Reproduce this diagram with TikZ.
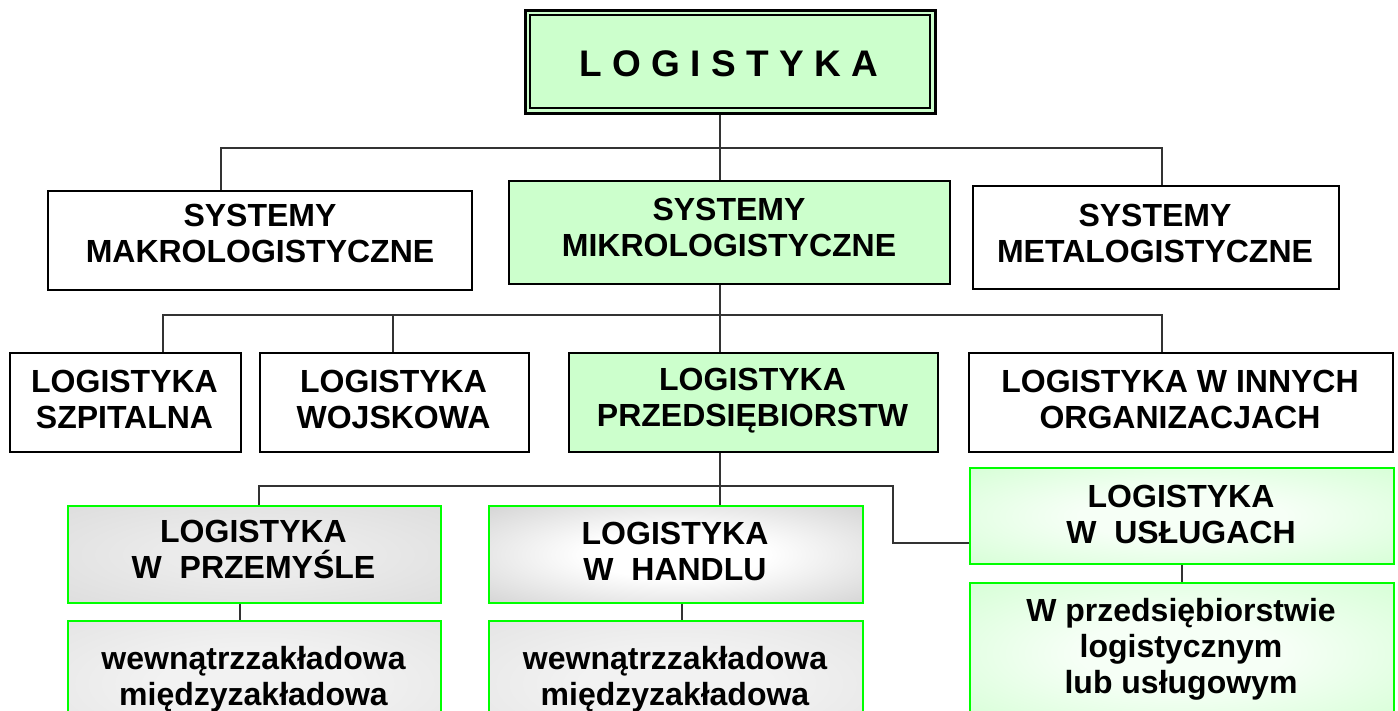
\documentclass[tikz,border=0pt]{standalone}
\usepackage{fontspec}
\setmainfont{Liberation Sans}
\definecolor{mint}{HTML}{CCFFCC}
\definecolor{lime}{HTML}{00FF00}
\definecolor{gA}{HTML}{D6D6D6}
\definecolor{gB}{HTML}{BBBBBB}
\definecolor{gC}{HTML}{DDDDDD}
\definecolor{grE}{HTML}{C4FFC4}
\pgfdeclareradialshading{shA}{\pgfpoint{0bp}{0bp}}{color(0bp)=(white!92!black); color(12bp)=(white!92!black); color(50bp)=(gA); color(100bp)=(gA)}
\pgfdeclareradialshading{shB}{\pgfpoint{0bp}{0bp}}{color(0bp)=(white); color(12bp)=(white); color(50bp)=(gB); color(100bp)=(gB)}
\pgfdeclareradialshading{shC}{\pgfpoint{0bp}{0bp}}{color(0bp)=(white!95!black); color(12bp)=(white!95!black); color(50bp)=(gC); color(100bp)=(gC)}
\pgfdeclareradialshading{shG}{\pgfpoint{0bp}{0bp}}{color(0bp)=(white!85!grE); color(12bp)=(white!85!grE); color(50bp)=(grE); color(100bp)=(grE)}
\tikzset{
  conn/.style={draw=black!80, line width=1.3pt},
  boxw/.style={draw=black, line width=2.4pt, fill=white, rectangle, inner sep=0pt, anchor=north west},
  boxg/.style={boxw, fill=mint},
  boxs/.style={draw=lime, line width=2pt, rectangle, inner sep=0pt, anchor=north west, shading=#1},
  lbl/.style={font=\fontsize{32}{36}\selectfont\bfseries, align=center, inner sep=0pt},
  bigl/.style={font=\fontsize{37}{44}\selectfont\bfseries, inner sep=0pt}
}
\begin{document}
\begin{tikzpicture}[x=1pt,y=-1pt]
\clip (0,0) rectangle (1398,711);
\fill[white] (0,0) rectangle (1398,711);
% top box
\node[draw=black, line width=2.6pt, fill=mint, rectangle, inner sep=0pt, anchor=north west,
      minimum width=410pt, minimum height=103pt] (top) at (524,9) {};
\node[draw=black, line width=1.8pt, rectangle, inner sep=0pt, anchor=north west,
      minimum width=400pt, minimum height=93pt] (topin) at (529,14) {};
\node[bigl] (toptxt) at (729,64) {L O G I S T Y K A};
% row 2
\node[boxw, minimum width=424pt, minimum height=99pt] (makro) at (47,190) {};
\node[boxg, minimum width=441pt, minimum height=103pt] (mikro) at (508,180) {};
\node[boxw, minimum width=366pt, minimum height=103pt] (meta) at (972,185) {};
\node[lbl] (makrot) at (260,233) {SYSTEMY\\MAKROLOGISTYCZNE};
\node[lbl] (mikrot) at (729,227) {SYSTEMY\\MIKROLOGISTYCZNE};
\node[lbl] (metat) at (1155,233) {SYSTEMY\\METALOGISTYCZNE};
% row 3
\node[boxw, minimum width=231pt, minimum height=99pt] (szp) at (9,352) {};
\node[boxw, minimum width=269pt, minimum height=99pt] (woj) at (259,352) {};
\node[boxg, minimum width=369pt, minimum height=99pt] (prz) at (568,352) {};
\node[boxw, minimum width=424pt, minimum height=99pt] (inn) at (968,352) {};
\node[lbl] (szpt) at (124.5,399) {LOGISTYKA\\SZPITALNA};
\node[lbl] (wojt) at (393.5,399) {LOGISTYKA\\WOJSKOWA};
\node[lbl] (przt) at (752.5,401) {LOGISTYKA\\PRZEDSIĘBIORSTW};
\node[lbl] (innt) at (1180,399) {LOGISTYKA W INNYCH\\ORGANIZACJACH};
% row 4
\node[boxs=shA, minimum width=373pt, minimum height=97pt] (przem) at (67,505) {};
\node[boxs=shB, minimum width=374pt, minimum height=97pt] (handl) at (488,505) {};
\node[boxs=shG, minimum width=424pt, minimum height=96pt] (uslu) at (969,467) {};
\node[lbl] (przemt) at (253.5,549) {LOGISTYKA\\W~~PRZEMYŚLE};
\node[lbl] (handlt) at (675,551) {LOGISTYKA\\W~~HANDLU};
\node[lbl] (uslut) at (1181,514) {LOGISTYKA\\W~~USŁUGACH};
% row 5
\node[boxs=shC, minimum width=373pt, minimum height=125pt] (przemlow) at (67,620) {};
\node[boxs=shC, minimum width=374pt, minimum height=125pt] (handllow) at (488,620) {};
\node[boxs=shG, minimum width=424pt, minimum height=140pt] (uslulow) at (969,582) {};
\node[lbl] (przemlowt) at (253.5,679) {wewnątrzzakładowa\\międzyzakładowa};
\node[lbl] (handllowt) at (675,679) {wewnątrzzakładowa\\międzyzakładowa};
\node[lbl] (uslulowt) at (1181,649) {W przedsiębiorstwie\\logistycznym\\lub usługowym};
% connectors level 1
\coordinate (b1) at (720,148);
\coordinate (b1l) at (221,148);
\coordinate (b1r) at (1162,148);
\draw[conn] (b1 |- top.south) -- (b1 |- mikro.north);
\draw[conn] (b1l |- makro.north) -- (b1l) -- (b1r) -- (b1r |- meta.north);
% level 2
\coordinate (b2m) at (720,315);
\coordinate (b2l) at (163,315);
\coordinate (b2w) at (393,315);
\coordinate (b2r) at (1162,315);
\draw[conn] (b2m |- mikro.south) -- (b2m |- prz.north);
\draw[conn] (b2l |- szp.north) -- (b2l) -- (b2r) -- (b2r |- inn.north);
\draw[conn] (b2w) -- (b2w |- woj.north);
% level 3
\coordinate (b3m) at (720,486);
\coordinate (b3l) at (259,486);
\coordinate (b3r) at (893,486);
\coordinate (b3e) at (893,543);
\draw[conn] (b3m |- prz.south) -- (b3m |- handl.north);
\draw[conn] (b3l |- przem.north) -- (b3l) -- (b3r) -- (b3e) -- (b3e -| uslu.west);
% level 4
\coordinate (c1) at (240,611);
\coordinate (c2) at (682,611);
\coordinate (c3) at (1182,572);
\draw[conn] (c1 |- przem.south) -- (c1 |- przemlow.north);
\draw[conn] (c2 |- handl.south) -- (c2 |- handllow.north);
\draw[conn] (c3 |- uslu.south) -- (c3 |- uslulow.north);
\end{tikzpicture}
\end{document}
